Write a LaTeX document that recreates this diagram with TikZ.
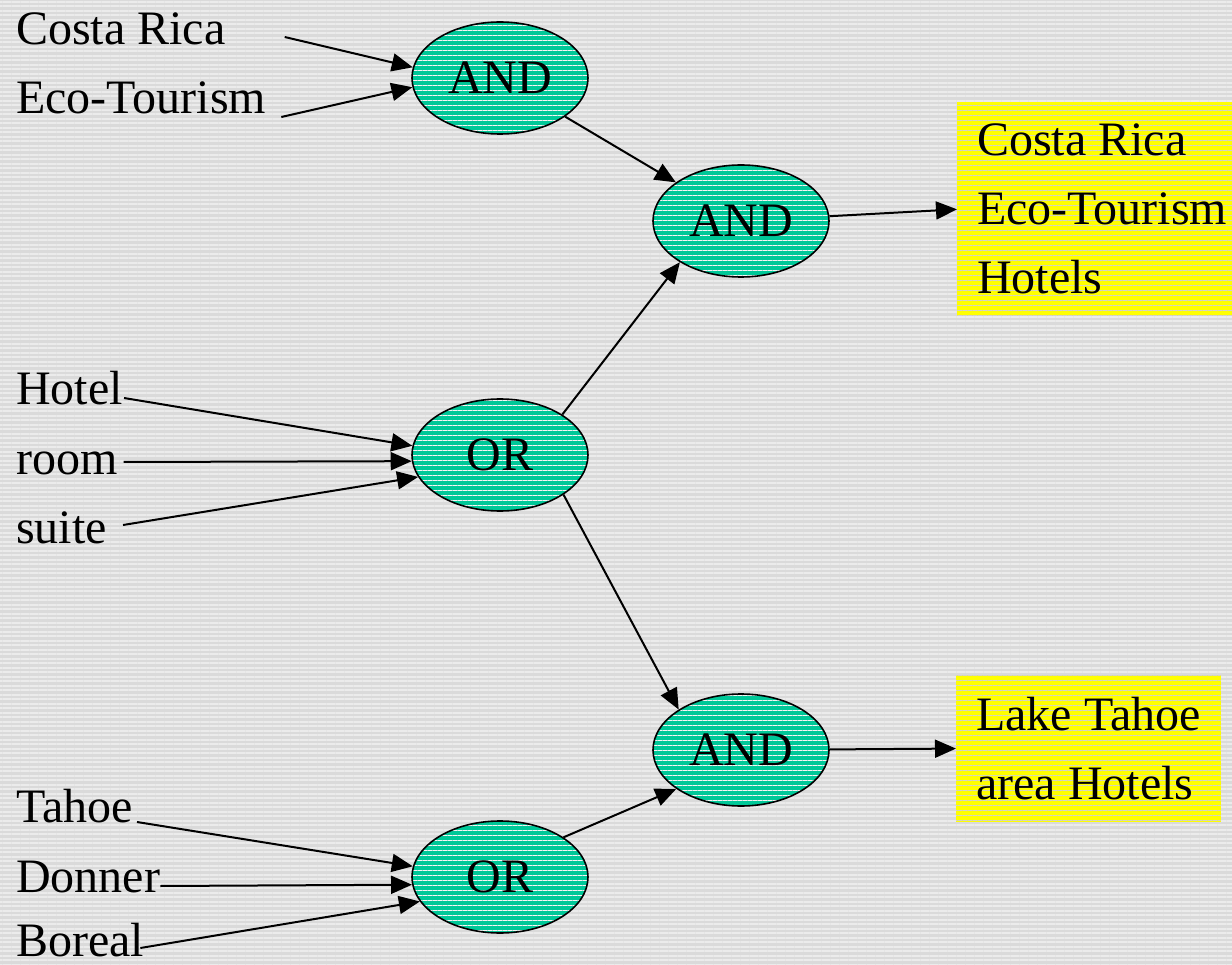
\documentclass[tikz,border=0pt]{standalone}
\usepackage{fontspec}
\setmainfont{Liberation Serif}
\usetikzlibrary{arrows.meta,patterns.meta,shapes.geometric}
\definecolor{Backdrop}{HTML}{DADADA}
\definecolor{BackStripe}{HTML}{EBEBEB}
\definecolor{Gate}{HTML}{00C898}
\definecolor{GateStripe}{HTML}{F8F4F4}
\definecolor{Result}{HTML}{FFFF00}
\definecolor{ResultStripe}{HTML}{D2D2C8}
\definecolor{Ink}{HTML}{000000}
\tikzset{
  gate/.style={ellipse,minimum width=176pt,minimum height=112pt,inner sep=0pt,
    preaction={fill=Gate},
    preaction={pattern={Lines[angle=0,distance=5pt,line width=0.7pt]},pattern color=GateStripe},
    draw=Ink,line width=1.6pt},
  term/.style={anchor=base west,inner sep=0pt},
  result/.style={anchor=north west,align=left,inner xsep=20pt,inner ysep=22pt,
    preaction={fill=Result},
    preaction={pattern={Lines[angle=0,distance=5pt,line width=0.7pt]},pattern color=ResultStripe}},
  link/.style={-{Triangle[length=21pt,width=18pt]},line width=2pt,draw=Ink}
}

\begin{document}
\begin{tikzpicture}[x=1pt,y=-1pt,every node/.style={text=Ink,font=\fontsize{48}{69}\selectfont}]
  \useasboundingbox (0,0) rectangle (1232,965);
  \fill[Backdrop,postaction={pattern={Lines[angle=0,distance=4.5pt,line width=2pt]},pattern color=BackStripe}]
    (0,0) rectangle (1232,965);

  % Search terms.
  \node[term] (costa) at (16,45) {Costa Rica};
  \node[term] (eco) at (16,114) {Eco-Tourism};
  \node[term] (hotel) at (16,405) {Hotel};
  \node[term] (room) at (16,475) {room};
  \node[term] (suite) at (16,543) {suite};
  \node[term] (tahoe) at (16,822) {Tahoe};
  \node[term] (donner) at (16,892) {Donner};
  \node[term] (boreal) at (16,956) {Boreal};

  % Boolean gates.
  \node[gate] (and1) at (500,78) {AND};
  \node[gate] (and2) at (741,221) {AND};
  \node[gate] (or1) at (500,455) {OR};
  \node[gate] (and3) at (741,750) {AND};
  \node[gate] (or2) at (500,877) {OR};

  % Query results.
  \node[result] (res1) at (957,102) {Costa Rica\\Eco-Tourism\\Hotels};
  \node[result] (res2) at (956,675) {Lake Tahoe\\area Hotels};

  % Connectors.
  \draw[link] ([xshift=59pt,yshift=8pt]costa.base east) -- (and1.173);
  \draw[link] ([xshift=15pt,yshift=-3pt]eco.base east) -- (and1.186);
  \draw[link] (and1) -- (and2);
  \draw[link] (and2) -- (res1.west);
  \draw[link] ([xshift=1pt,yshift=7pt]hotel.base east) -- (or1.174);
  \draw[link] ([xshift=6pt,yshift=13pt]room.base east) -- (or1.184);
  \draw[link] ([xshift=16pt,yshift=18pt]suite.base east) -- (or1.195);
  \draw[link] (or1.33) -- (and2.214);
  \draw[link] (or1.-32) -- (and3.147);
  \draw[link] ([xshift=4pt]tahoe.base east) -- (or2.173);
  \draw[link] ([yshift=6pt]donner.base east) -- (or2.185);
  \draw[link] ([xshift=-4pt,yshift=8pt]boreal.base east) -- (or2.197);
  \draw[link] (or2.32) -- (and3.211);
  \draw[link] (and3) -- (res2.west);
\end{tikzpicture}
\end{document}
